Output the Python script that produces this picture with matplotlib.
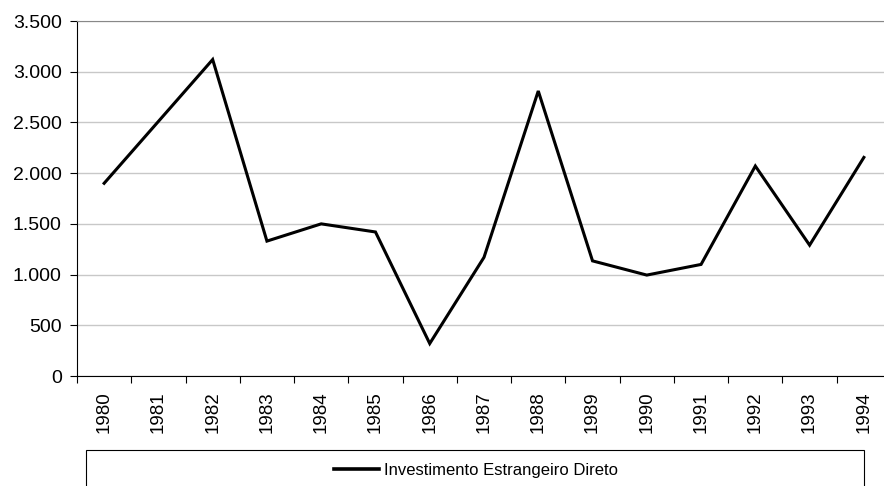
import matplotlib
matplotlib.use("Agg")
import matplotlib.pyplot as plt
from matplotlib.ticker import FuncFormatter, FixedLocator
from matplotlib.patches import Rectangle
from matplotlib.lines import Line2D

years = ["1980", "1981", "1982", "1983", "1984", "1985", "1986", "1987",
         "1988", "1989", "1990", "1991", "1992", "1993", "1994"]
ied = [1900, 2510, 3120, 1330, 1500, 1420, 320, 1170,
       2810, 1135, 995, 1100, 2070, 1290, 2155]
series_label = "Investimento Estrangeiro Direto"
yticks = [0, 500, 1000, 1500, 2000, 2500, 3000, 3500]

plt.rcParams['font.family'] = ['Liberation Sans', 'DejaVu Sans']

W, H = 884, 486
fig = plt.figure(figsize=(W / 100, H / 100), dpi=100)
ax = fig.add_axes([77 / W, 1 - 376 / H, (891 - 77) / W, (376 - 21) / H])

x = list(range(len(years)))
ax.plot(x, ied, color='black', lw=2.2, solid_joinstyle='miter', zorder=3)

ax.set_xlim(-0.5, len(years) - 0.5)
ax.set_ylim(0, 3500)
ax.set_yticks(yticks)
ax.yaxis.set_major_formatter(FuncFormatter(lambda v, p: f"{int(v):,}".replace(',', '.')))
ax.grid(axis='y', color='#c8c8c8', lw=1.0)
ax.set_axisbelow(True)

# category ticks between labels
ax.xaxis.set_major_locator(FixedLocator([i - 0.5 for i in range(len(years) + 1)]))
ax.xaxis.set_major_formatter(FuncFormatter(lambda v, p: ""))
ax.xaxis.set_minor_locator(FixedLocator(x))
ax.set_xticklabels(years, minor=True, rotation=90)
ax.tick_params(axis='x', which='minor', length=0, pad=11, labelsize=13.5)
ax.tick_params(axis='x', which='major', length=5, width=0.8, direction='out')
ax.tick_params(axis='y', length=5, width=0.8, direction='out', pad=6, labelsize=14)

ax.spines['right'].set_visible(False)
ax.spines['top'].set_color('#888888')
ax.spines['left'].set_color('black')
ax.spines['bottom'].set_color('black')

# legend box
fig.patches.append(Rectangle((86 / W, -0.1), (864 - 86) / W, (1 - 450 / H) + 0.1,
                             transform=fig.transFigure, fill=False,
                             edgecolor='black', lw=0.8))
handle = Line2D([], [], color='black', lw=2.6)
fig.legend([handle], [series_label], loc='center', bbox_to_anchor=(476 / W, 1 - 470 / H),
           bbox_transform=fig.transFigure, frameon=False, fontsize=12,
           handlelength=2.7, handletextpad=0.25)

fig.savefig("out.png", dpi=100)
